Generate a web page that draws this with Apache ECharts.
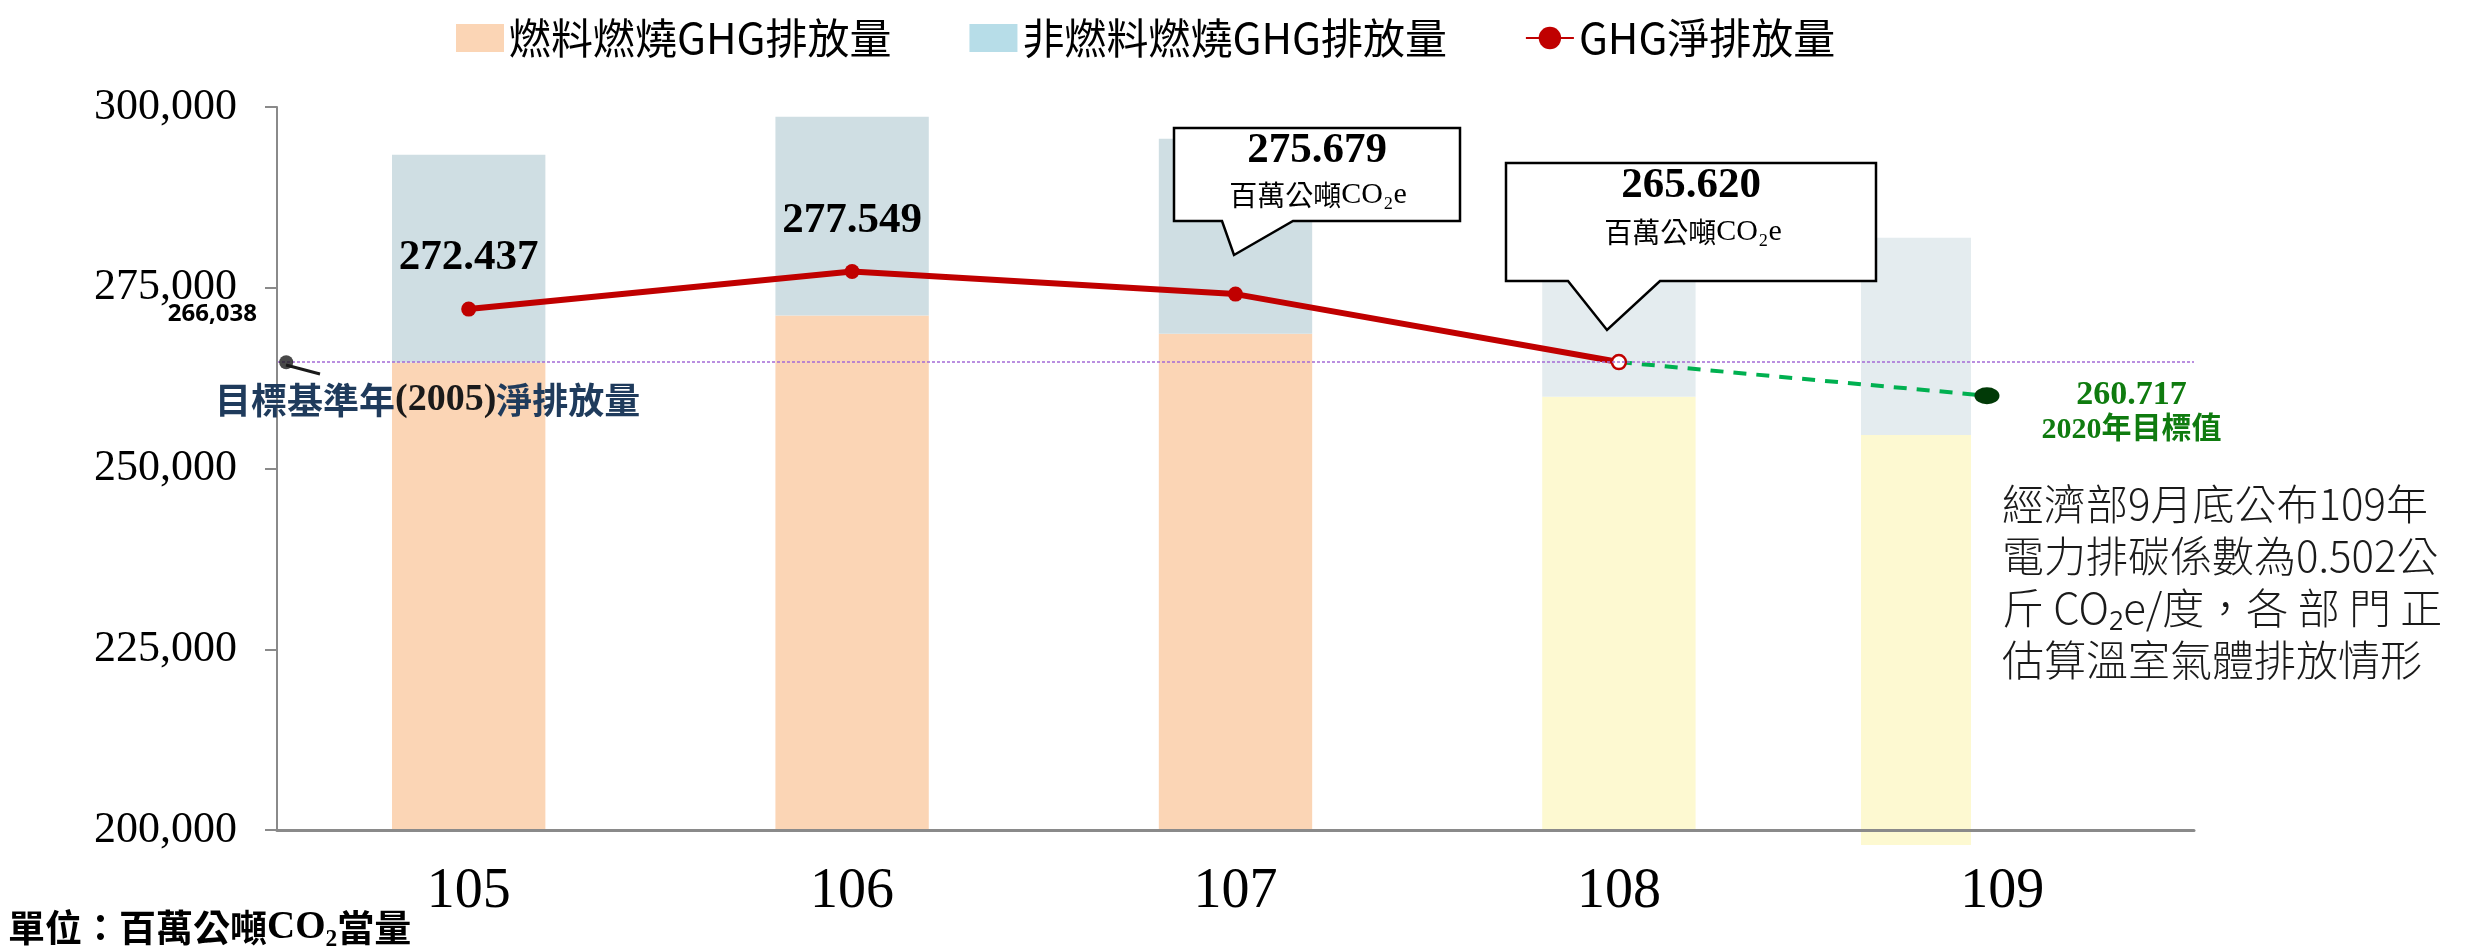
<!DOCTYPE html>
<html>
<head>
<meta charset="utf-8">
<title>GHG排放量</title>
<script src="https://cdn.jsdelivr.net/npm/echarts@6/dist/echarts.min.js"></script>
<style>
  html, body { margin: 0; padding: 0; background: #fff; }
  #main { width: 2466px; height: 947px; }
</style>
</head>
<body>
<div id="main"></div>
<script>
// 年度 (民國)
var years = ['105', '106', '107', '108', '109'];
var yTicks = [200000, 225000, 250000, 275000, 300000];

// 堆疊柱: 燃料燃燒 + 非燃料燃燒 (105-108)
var fuelGHG = [264660, 271160, 268630, 259920, null];
var nonFuelGHG = [28740, 27500, 26990, 17500, null];

// 109年柱 (另一組座標, 底部低於橫軸)
var fuel109 = 254620;
var nonFuel109 = 27290;
var base109 = 197920;

// GHG淨排放量 折線
var netGHG = [272050, 277250, 274120, 264720, null];
var netLabels = ['272.437', '277.549', '275.679', '265.620'];

// 2020年目標值 虛線 (x 以類別序號計)
var targetX = [3, 3.96];
var targetY = [264720, 260070];
var targetLabel = '260.717';

// 目標基準年(2005)
var baseX = -0.476;
var baseY = 264700;
var baseLabel = '266,038';

var serif = "'Liberation Serif', 'Times New Roman', serif";
var cjk = "'Noto Sans CJK TC', 'Noto Sans', sans-serif";
var serifCjk = "'Liberation Serif', 'Noto Sans CJK TC', serif";

var fuelColors = ['#fbd5b5', '#fbd5b5', '#fbd5b5', '#fdf9d1'];
var nonFuelColors = ['#cfdee3', '#cfdee3', '#cfdee3', '#e4ecef'];

var chart = echarts.init(document.getElementById('main'));

var option = {
  animation: false,
  backgroundColor: '#fff',
  legend: {
    left: 451,
    top: 12,
    itemWidth: 48,
    itemHeight: 28,
    itemGap: 78,
    textStyle: { fontSize: 42, fontFamily: cjk, color: '#000' },
    data: [
      { name: '燃料燃燒GHG排放量', icon: 'rect' },
      { name: '非燃料燃燒GHG排放量', icon: 'rect' },
      { name: 'GHG淨排放量' }
    ]
  },
  grid: [
    { left: 277, right: 272, top: 107, bottom: 117 },
    { left: 1861, width: 110, top: 107, bottom: 102 }
  ],
  xAxis: [
    {
      type: 'category', gridIndex: 0, data: years, z: 5,
      axisLine: { onZero: false, lineStyle: { color: '#8a8a8a', width: 3 } },
      axisTick: { length: 15, lineStyle: { color: '#8a8a8a', width: 1.5 } },
      axisLabel: { fontSize: 56, fontFamily: serif, color: '#000', margin: 34 }
    },
    { type: 'category', gridIndex: 1, data: ['109'], show: false },
    { type: 'value', gridIndex: 0, min: -0.5, max: 4.5, show: false }
  ],
  yAxis: [
    {
      type: 'value', gridIndex: 0, z: 5,
      min: yTicks[0], max: yTicks[yTicks.length - 1], interval: yTicks[1] - yTicks[0],
      axisLine: { show: true, onZero: false, lineStyle: { color: '#8a8a8a', width: 2 } },
      axisTick: { show: true, length: 12, lineStyle: { color: '#8a8a8a', width: 2 } },
      splitLine: { show: false },
      axisLabel: {
        fontSize: 44, fontFamily: serif, color: '#000', margin: 40,
        formatter: function (v) { return v.toLocaleString('en-US'); }
      }
    },
    { type: 'value', gridIndex: 1, min: base109, max: yTicks[yTicks.length - 1], show: false }
  ],
  series: [
    {
      name: '燃料燃燒GHG排放量', type: 'bar', stack: 'main', barWidth: '40%',
      itemStyle: { color: '#fbd5b5' },
      data: fuelGHG.map(function (v, i) {
        return v === null ? null : { value: v, itemStyle: { color: fuelColors[i] } };
      })
    },
    {
      name: '非燃料燃燒GHG排放量', type: 'bar', stack: 'main', barWidth: '40%',
      itemStyle: { color: '#b7dde8' },
      data: nonFuelGHG.map(function (v, i) {
        return v === null ? null : { value: v, itemStyle: { color: nonFuelColors[i] } };
      })
    },
    {
      name: '109燃料', type: 'bar', stack: 's109', barWidth: '100%',
      xAxisIndex: 1, yAxisIndex: 1,
      data: [{ value: fuel109, itemStyle: { color: fuelColors[3] } }]
    },
    {
      name: '109非燃料', type: 'bar', stack: 's109', barWidth: '100%',
      xAxisIndex: 1, yAxisIndex: 1,
      data: [{ value: nonFuel109, itemStyle: { color: nonFuelColors[3] } }]
    },
    {
      name: '2020年目標', type: 'line', xAxisIndex: 2, yAxisIndex: 0, z: 3,
      lineStyle: { color: '#00b050', width: 4, type: [13, 10] },
      itemStyle: { color: '#00b050' },
      data: [
        { value: [targetX[0], targetY[0]], symbol: 'none' },
        {
          value: [targetX[1], targetY[1]], symbol: 'circle', symbolSize: [25, 17],
          itemStyle: { color: '#013a07' },
          label: {
            show: true, position: 'right', distance: 42, offset: [0, 16],
            formatter: '{a|' + targetLabel + '}\n{b|2020年目標值}',
            rich: {
              a: { fontSize: 34, fontWeight: 'bold', fontFamily: serif, color: '#0f7b0f', align: 'center', lineHeight: 38 },
              b: { fontSize: 30, fontWeight: 'bold', fontFamily: serifCjk, color: '#0f7b0f', align: 'center', lineHeight: 32 }
            }
          }
        }
      ]
    },
    {
      name: 'GHG淨排放量', type: 'line', z: 4,
      symbol: 'circle', symbolSize: 15,
      lineStyle: { color: '#c00000', width: 6 },
      itemStyle: { color: '#c00000' },
      label: {
        show: false, position: 'top', distance: 22,
        fontSize: 43, fontWeight: 'bold', fontFamily: serif, color: '#000'
      },
      data: netGHG.map(function (v, i) {
        if (v === null) return null;
        if (i === 3) {
          return { value: v, symbolSize: 14, itemStyle: { color: '#fff', borderColor: '#c00000', borderWidth: 2.5 } };
        }
        return { value: v, label: { show: i < 2, formatter: netLabels[i] } };
      }),
      markLine: {
        silent: true, symbol: ['none', 'none'],
        label: { show: false },
        lineStyle: { color: '#a46ad6', type: [3, 2], width: 1.5 },
        data: [{ yAxis: baseY }]
      }
    },
    {
      name: '基準年', type: 'scatter', xAxisIndex: 2, yAxisIndex: 0, z: 6,
      symbolSize: 14, itemStyle: { color: '#1a1a1a' },
      data: [[baseX, baseY]]
    }
  ],
  graphic: [
    // 107 callout
    {
      type: 'polygon', z: 20,
      shape: { points: [[1174, 128], [1460, 128], [1460, 221], [1293, 221], [1234, 255], [1222, 221], [1174, 221]] },
      style: { fill: '#fff', stroke: '#000', lineWidth: 2.5 }
    },
    {
      type: 'text', z: 21, x: 1317, y: 151,
      style: { text: netLabels[2], fontSize: 43, fontWeight: 'bold', fontFamily: serif, fill: '#000', align: 'center', verticalAlign: 'middle' }
    },
    {
      type: 'text', z: 21, x: 1318, y: 195,
      style: {
        text: '{c|百萬公噸}{s|CO₂e}', align: 'center', verticalAlign: 'middle',
        rich: { c: { fontSize: 28, fontFamily: cjk, fill: '#000' }, s: { fontSize: 30, fontFamily: serif, fill: '#000' } }
      }
    },
    // 108 callout
    {
      type: 'polygon', z: 20,
      shape: { points: [[1506, 163], [1876, 163], [1876, 281], [1660, 281], [1607, 330], [1568, 281], [1506, 281]] },
      style: { fill: '#fff', stroke: '#000', lineWidth: 2.5 }
    },
    {
      type: 'text', z: 21, x: 1691, y: 186,
      style: { text: netLabels[3], fontSize: 43, fontWeight: 'bold', fontFamily: serif, fill: '#000', align: 'center', verticalAlign: 'middle' }
    },
    {
      type: 'text', z: 21, x: 1693, y: 232,
      style: {
        text: '{c|百萬公噸}{s|CO₂e}', align: 'center', verticalAlign: 'middle',
        rich: { c: { fontSize: 28, fontFamily: cjk, fill: '#000' }, s: { fontSize: 30, fontFamily: serif, fill: '#000' } }
      }
    },
    // 基準年 leader + labels
    {
      type: 'line', z: 6,
      shape: { x1: 286, y1: 365, x2: 320, y2: 374 },
      style: { stroke: '#1a1a1a', lineWidth: 3 }
    },
    {
      type: 'text', z: 6, x: 257, y: 314,
      style: { text: baseLabel, fontSize: 24, fontWeight: 'bold', fontFamily: "'Noto Sans', sans-serif", fill: '#000', align: 'right', verticalAlign: 'middle' }
    },
    {
      type: 'text', z: 6, x: 215, y: 400,
      style: {
        text: '{c|目標基準年}{s|(2005)}{c|淨排放量}', align: 'left', verticalAlign: 'middle',
        rich: {
          c: { fontSize: 36, fontWeight: 'bold', fontFamily: cjk, fill: '#1f3b5c' },
          s: { fontSize: 38, fontWeight: 'bold', fontFamily: serif, fill: '#1a1a1a' }
        }
      }
    },
    // 右側說明
    {
      type: 'text', z: 6, x: 2002, y: 478,
      style: {
        text: '經濟部9月底公布109年\n電力排碳係數為0.502公\n斤 CO₂e/度，各 部 門 正\n估算溫室氣體排放情形',
        fontSize: 42, lineHeight: 52, fontWeight: 300, fontFamily: cjk, fill: '#1a1a1a', align: 'left', verticalAlign: 'top'
      }
    },
    // 單位
    {
      type: 'text', z: 6, x: 8, y: 928,
      style: {
        text: '{c|單位：百萬公噸}{s|CO₂}{c|當量}', align: 'left', verticalAlign: 'middle',
        rich: {
          c: { fontSize: 37, fontWeight: 'bold', fontFamily: cjk, fill: '#000' },
          s: { fontSize: 39, fontWeight: 'bold', fontFamily: serif, fill: '#000' }
        }
      }
    }
  ]
};

chart.setOption(option);
</script>
</body>
</html>
